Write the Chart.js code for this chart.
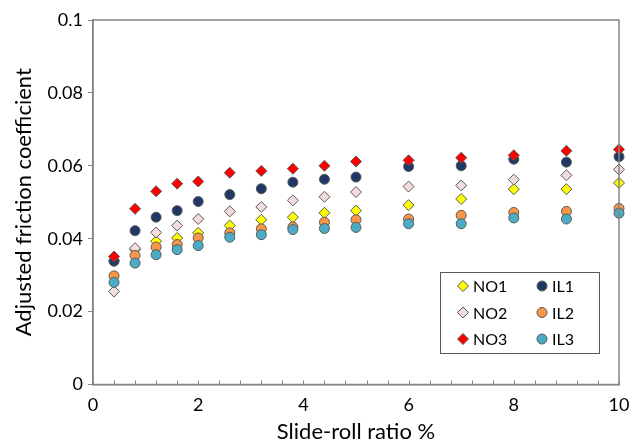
<!DOCTYPE html>
<html>
<head>
<meta charset="utf-8">
<script src="https://cdn.jsdelivr.net/npm/chart.js@4"></script>
<style>
  html, body { margin: 0; padding: 0; background: #fff; }
  #wrap { width: 632px; height: 447px; }
</style>
</head>
<body>
<div id="wrap"><canvas id="myChart"></canvas></div>
<script>
const slideRoll = [0.4, 0.8, 1.2, 1.6, 2.0, 2.6, 3.2, 3.8, 4.4, 5.0, 6, 7, 8, 9, 10];
const no1 = [0.0340, 0.0370, 0.0393, 0.0402, 0.0416, 0.0436, 0.0452, 0.0459, 0.0471, 0.0477, 0.0492, 0.0509, 0.0536, 0.0536, 0.0553];
const no2 = [0.0255, 0.0374, 0.0417, 0.0436, 0.0454, 0.0475, 0.0487, 0.0505, 0.0515, 0.0528, 0.0543, 0.0546, 0.0562, 0.0574, 0.0590];
const no3 = [0.0351, 0.0482, 0.0530, 0.0551, 0.0557, 0.0581, 0.0586, 0.0592, 0.0600, 0.0612, 0.0615, 0.0622, 0.0629, 0.0641, 0.0645];
const il1 = [0.0338, 0.0422, 0.0459, 0.0477, 0.0502, 0.0521, 0.0537, 0.0555, 0.0563, 0.0569, 0.0598, 0.0600, 0.0618, 0.0610, 0.0625];
const il2 = [0.0298, 0.0354, 0.0377, 0.0384, 0.0402, 0.0416, 0.0427, 0.0432, 0.0445, 0.0452, 0.0454, 0.0464, 0.0472, 0.0475, 0.0483];
const il3 = [0.0280, 0.0333, 0.0356, 0.0370, 0.0381, 0.0404, 0.0411, 0.0425, 0.0428, 0.0431, 0.0441, 0.0441, 0.0457, 0.0454, 0.0470];

const seriesNames = ["NO1", "NO2", "NO3", "IL1", "IL2", "IL3"];
const seriesValues = [no1, no2, no3, il1, il2, il3];
const fillColors = ["#ffff00", "#f2dcdb", "#ff0000", "#1f3864", "#f79646", "#4bacc6"];
const markerShapes = ["rectRot", "rectRot", "rectRot", "circle", "circle", "circle"];
// drawing order: lower = on top
const drawOrder = [5, 4, 0, 3, 2, 1];
// legend layout: two columns, row by row
const legendOrder = [0, 3, 1, 4, 2, 5];

const FONT = "Lato, 'Liberation Sans', sans-serif";

function toPoints(values) {
  return values.map((v, i) => ({ x: slideRoll[i], y: v }));
}

const datasets = seriesNames.map((name, i) => ({
  label: name,
  data: toPoints(seriesValues[i]),
  backgroundColor: fillColors[i],
  borderColor: "#5a5a5a",
  borderWidth: 1,
  pointStyle: markerShapes[i],
  pointRadius: markerShapes[i] === "circle" ? 5 : 5.5,
  order: drawOrder[i],
  clip: false,
}));

function marker(ctx, shape, x, y, r, fill) {
  ctx.beginPath();
  if (shape === "circle") {
    ctx.arc(x, y, r, 0, Math.PI * 2);
  } else {
    ctx.moveTo(x, y - r);
    ctx.lineTo(x + r, y);
    ctx.lineTo(x, y + r);
    ctx.lineTo(x - r, y);
    ctx.closePath();
  }
  ctx.fillStyle = fill;
  ctx.fill();
  ctx.lineWidth = 1;
  ctx.strokeStyle = "#5a5a5a";
  ctx.stroke();
}

const frameAndLegend = {
  id: "frameAndLegend",
  afterDraw(chart) {
    const { ctx, chartArea: a, scales } = chart;
    ctx.save();
    // plot frame
    ctx.strokeStyle = "#868686";
    ctx.lineWidth = 1.5;
    ctx.strokeRect(a.left, a.top, a.right - a.left, a.bottom - a.top);
    // inward x ticks
    ctx.lineWidth = 1;
    scales.x.ticks.forEach(t => {
      const px = Math.round(scales.x.getPixelForValue(t.value)) + 0.5;
      ctx.beginPath();
      ctx.moveTo(px, a.bottom);
      ctx.lineTo(px, a.bottom - 4);
      ctx.stroke();
    });

    // legend box
    const bx = 440, by = 272, bw = 159, bh = 81;
    ctx.fillStyle = "#fff";
    ctx.fillRect(bx, by, bw, bh);
    ctx.strokeStyle = "#595959";
    ctx.lineWidth = 1;
    ctx.strokeRect(bx + 0.5, by + 0.5, bw, bh);
    ctx.font = "16px " + FONT;
    ctx.textBaseline = "middle";
    ctx.textAlign = "left";
    legendOrder.forEach((idx, k) => {
      const col = k % 2, row = Math.floor(k / 2);
      const mx = bx + 23 + col * 79;
      const my = by + 14 + row * 26.5;
      marker(ctx, markerShapes[idx], mx, my, markerShapes[idx] === "circle" ? 5 : 5.5, fillColors[idx]);
      ctx.fillStyle = "#000";
      ctx.fillText(seriesNames[idx], mx + 10, my + 1);
    });
    ctx.restore();
  }
};

new Chart("myChart", {
  type: "scatter",
  data: { datasets: datasets },
  options: {
    responsive: true,
    maintainAspectRatio: false,
    animation: false,
    layout: { padding: { left: 0, top: 20, right: 13, bottom: 0 } },
    plugins: {
      legend: { display: false },
      tooltip: { enabled: false },
    },
    scales: {
      x: {
        type: "linear",
        min: 0,
        max: 10,
        afterFit: s => { s.height = 62.5; s.paddingLeft = 0; s.paddingRight = 0; },
        ticks: {
          stepSize: 0.4,
          autoSkip: false,
          maxRotation: 0,
          padding: 10,
          color: "#000",
          font: { family: FONT, size: 18 },
          callback: v => {
            const h = v / 2;
            return Math.abs(h - Math.round(h)) < 1e-6 ? String(Math.round(v)) : "";
          },
        },
        grid: { display: true, drawOnChartArea: false, drawTicks: false },
        border: { display: true, color: "#868686", width: 1.5 },
        title: {
          display: true,
          text: "Slide-roll ratio %",
          color: "#000",
          font: { family: FONT, size: 22 },
          padding: { top: 0, bottom: 2 },
        },
      },
      y: {
        min: 0,
        max: 0.1,
        afterFit: s => { s.width = 93; },
        ticks: {
          stepSize: 0.02,
          padding: 5,
          color: "#000",
          font: { family: FONT, size: 18 },
          callback: v => String(+v.toFixed(2)),
        },
        grid: { display: true, drawOnChartArea: false, drawTicks: true, tickLength: 5, color: "#868686" },
        border: { display: true, color: "#868686", width: 1.5 },
        title: {
          display: true,
          text: "Adjusted friction coefficient",
          color: "#000",
          font: { family: FONT, size: 22 },
          padding: { top: 11, bottom: 0 },
        },
      },
    },
  },
  plugins: [frameAndLegend],
});
</script>
</body>
</html>
